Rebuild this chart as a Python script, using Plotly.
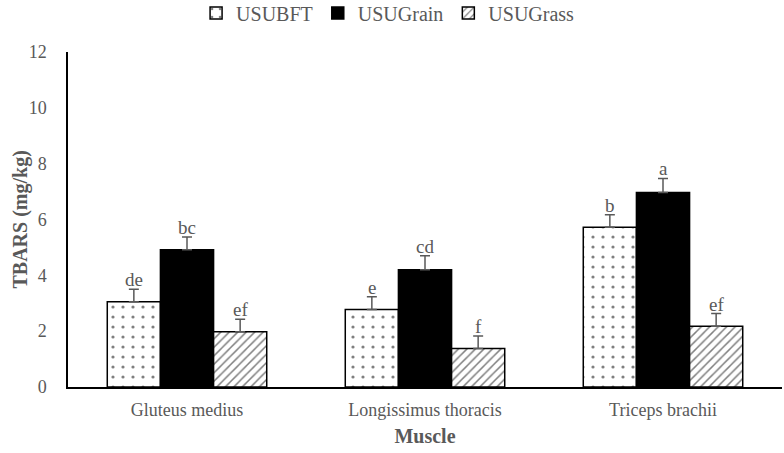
import plotly.graph_objects as go

muscles = ["Gluteus medius", "Longissimus thoracis", "Triceps brachii"]
series_names = ["USUBFT", "USUGrain", "USUGrass"]
bft = [3.05, 2.78, 5.72]
grain = [4.92, 4.2, 6.97]
grass = [1.98, 1.38, 2.18]
bft_err = [0.45, 0.45, 0.45]
grain_err = [0.45, 0.5, 0.5]
grass_err = [0.45, 0.45, 0.45]
bft_letters = ["de", "e", "b"]
grain_letters = ["bc", "cd", "a"]
grass_letters = ["ef", "f", "ef"]
y_title = "TBARS (mg/kg)"
x_title = "Muscle"

serif = "Liberation Serif"
gray = "#595959"

styles = [
    dict(color="white", pattern=dict(shape=".", fgcolor="black", bgcolor="white", size=10, solidity=0.08)),
    dict(color="black"),
    dict(color="white", pattern=dict(shape="/", fgcolor="black", bgcolor="white", size=6, solidity=0.25)),
]

fig = go.Figure()
data = [(bft, bft_err, bft_letters), (grain, grain_err, grain_letters), (grass, grass_err, grass_letters)]
for name, (vals, errs, letters), st in zip(series_names, data, styles):
    fig.add_trace(go.Bar(
        name=name, x=muscles, y=vals,
        marker=dict(line=dict(color="black", width=1.5), **st),
        error_y=dict(type="data", array=errs, arrayminus=[0] * len(errs), symmetric=False,
                     color="#595959", thickness=1.5, width=5),
    ))

W, H = 784, 453
ml, mr, mt, mb = 68, 2, 52, 66
plot_w = W - ml - mr
plot_h = H - mt - mb
cat_w = plot_w / len(muscles)
bargap = 0.33
bar_w = cat_w * (1 - bargap) / 3
for i, (vals, errs, letters) in enumerate(data):
    for j, m in enumerate(muscles):
        fig.add_annotation(x=m, y=vals[j] + errs[j], text=letters[j], showarrow=False,
                           xshift=(i - 1) * bar_w, yanchor="bottom", yshift=-3,
                           font=dict(family=serif, size=19, color=gray))

# y-axis title as a rotated annotation centred ~20px from the left edge
fig.add_annotation(text="<b>" + y_title + "</b>", xref="paper", yref="paper",
                   x=-(ml - 20) / plot_w, y=0.5, xanchor="center", yanchor="middle",
                   textangle=-90, showarrow=False,
                   font=dict(family=serif, size=20, color=gray))

fig.update_layout(
    width=W, height=H,
    margin=dict(l=ml, r=mr, t=mt, b=mb, autoexpand=False),
    paper_bgcolor="white", plot_bgcolor="white",
    barmode="group", bargap=bargap, bargroupgap=0,
    font=dict(family=serif, color=gray, size=18),
    legend=dict(orientation="h", x=0.495, xanchor="center", xref="container",
                y=1 + (mt - 13) / plot_h, yanchor="middle", yref="paper",
                font=dict(family=serif, size=20, color=gray), itemwidth=30),
    showlegend=True,
)
fig.update_yaxes(range=[0, 12], dtick=2, showgrid=False, showline=True, linecolor="black", linewidth=1.5,
                 ticks="", ticklabelstandoff=16,
                 tickfont=dict(family=serif, size=18, color=gray))
fig.update_xaxes(showline=True, linecolor="black", linewidth=1.5, showgrid=False, ticks="",
                 ticklabelstandoff=6,
                 tickfont=dict(family=serif, size=18, color=gray),
                 title=dict(text="<b>" + x_title + "</b>", font=dict(family=serif, size=20, color=gray), standoff=10))

fig.write_html("out.html", config={"displayModeBar": False},
               post_script="document.body.style.margin='0';")
